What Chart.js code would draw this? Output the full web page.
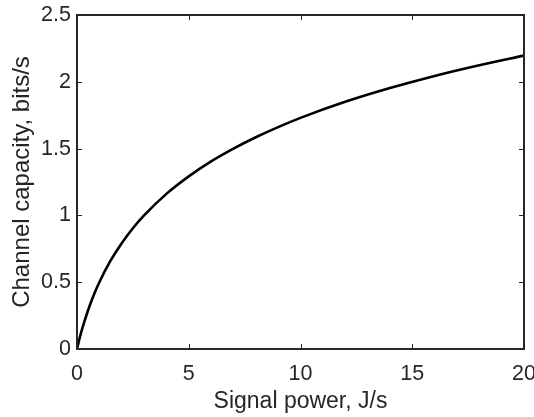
<!DOCTYPE html>
<html>
<head>
<meta charset="utf-8">
<script src="https://cdn.jsdelivr.net/npm/chart.js@4"></script>
<style>
  html, body { margin: 0; padding: 0; background: #fff; }
  canvas { display: block; }
</style>
</head>
<body>
<canvas id="capacityChart" width="534" height="417"></canvas>
<script>
// values
const signalPower = [0, 0.1, 0.25, 0.5, 0.75, 1, 1.5, 2, 2.5, 3, 4, 5, 6, 7, 8, 9, 10, 12, 14, 16, 18, 20];
const channelCapacity = [0, 0.069, 0.161, 0.292, 0.404, 0.500, 0.661, 0.792, 0.904, 1.000, 1.161, 1.292, 1.404, 1.500, 1.585, 1.661, 1.730, 1.850, 1.953, 2.044, 2.124, 2.196];

const xTicks = [0, 5, 10, 15, 20];
const yTicks = [0, 0.5, 1, 1.5, 2, 2.5];
const xTickLabels = ['0', '5', '10', '15', '20'];
const yTickLabels = ['0', '0.5', '1', '1.5', '2', '2.5'];

const axisColor = '#262626';
const fontFamily = '"Liberation Sans", Arial, Helvetica, sans-serif';

// matlab-ish box with inward ticks on all four sides
const boxPlugin = {
  id: 'boxAxes',
  afterDatasetsDraw(chart) {
    const { ctx, chartArea: a, scales } = chart;
    const len = 5;
    ctx.save();
    ctx.strokeStyle = axisColor;
    ctx.lineWidth = 1;
    ctx.beginPath();
    xTicks.forEach(v => {
      const px = Math.round(scales.x.getPixelForValue(v)) + 0.5;
      ctx.moveTo(px, a.bottom); ctx.lineTo(px, a.bottom - len);
      ctx.moveTo(px, a.top); ctx.lineTo(px, a.top + len);
    });
    yTicks.forEach(v => {
      const py = Math.round(scales.y.getPixelForValue(v)) + 0.5;
      ctx.moveTo(a.left, py); ctx.lineTo(a.left + len, py);
      ctx.moveTo(a.right, py); ctx.lineTo(a.right - len, py);
    });
    ctx.stroke();
    ctx.lineWidth = 2;
    ctx.strokeRect(a.left, a.top, a.right - a.left, a.bottom - a.top);
    ctx.restore();
  }
};

new Chart(document.getElementById('capacityChart'), {
  type: 'line',
  data: {
    datasets: [{
      data: signalPower.map((p, i) => ({ x: p, y: channelCapacity[i] })),
      borderColor: '#000',
      borderWidth: 2.6,
      pointRadius: 0,
      fill: false,
      cubicInterpolationMode: 'monotone'
    }]
  },
  options: {
    responsive: false,
    animation: false,
    devicePixelRatio: 1,
    layout: { padding: { top: 15, right: 10, left: 0, bottom: 0 } },
    plugins: { legend: { display: false }, tooltip: { enabled: false } },
    scales: {
      x: {
        type: 'linear',
        min: 0, max: 20,
        // fixed box so the plot area lands where the reference has it
        afterFit: s => { s.height = 68; s.paddingLeft = 0; s.paddingRight = 0; },
        afterBuildTicks: s => { s.ticks = xTicks.map(v => ({ value: v })); },
        grid: { display: false, drawTicks: false },
        border: { display: false },
        ticks: {
          color: axisColor,
          padding: 12,
          maxRotation: 0,
          font: { family: fontFamily, size: 21.5 },
          callback: (v) => xTickLabels[xTicks.indexOf(v)]
        },
        title: {
          display: true,
          text: 'Signal power, J/s',
          color: axisColor,
          padding: { top: 0, bottom: 2 },
          font: { family: fontFamily, size: 23 }
        }
      },
      y: {
        type: 'linear',
        min: 0, max: 2.5,
        afterFit: s => { s.width = 77; s.paddingTop = 0; s.paddingBottom = 0; },
        afterBuildTicks: s => { s.ticks = yTicks.map(v => ({ value: v })); },
        grid: { display: false, drawTicks: false },
        border: { display: false },
        ticks: {
          color: axisColor,
          padding: 6,
          font: { family: fontFamily, size: 21.5 },
          callback: (v) => yTickLabels[yTicks.indexOf(v)]
        },
        title: {
          display: true,
          text: 'Channel capacity, bits/s',
          color: axisColor,
          padding: { top: 8, bottom: 0 },
          font: { family: fontFamily, size: 24 }
        }
      }
    }
  },
  plugins: [boxPlugin]
});
</script>
</body>
</html>
